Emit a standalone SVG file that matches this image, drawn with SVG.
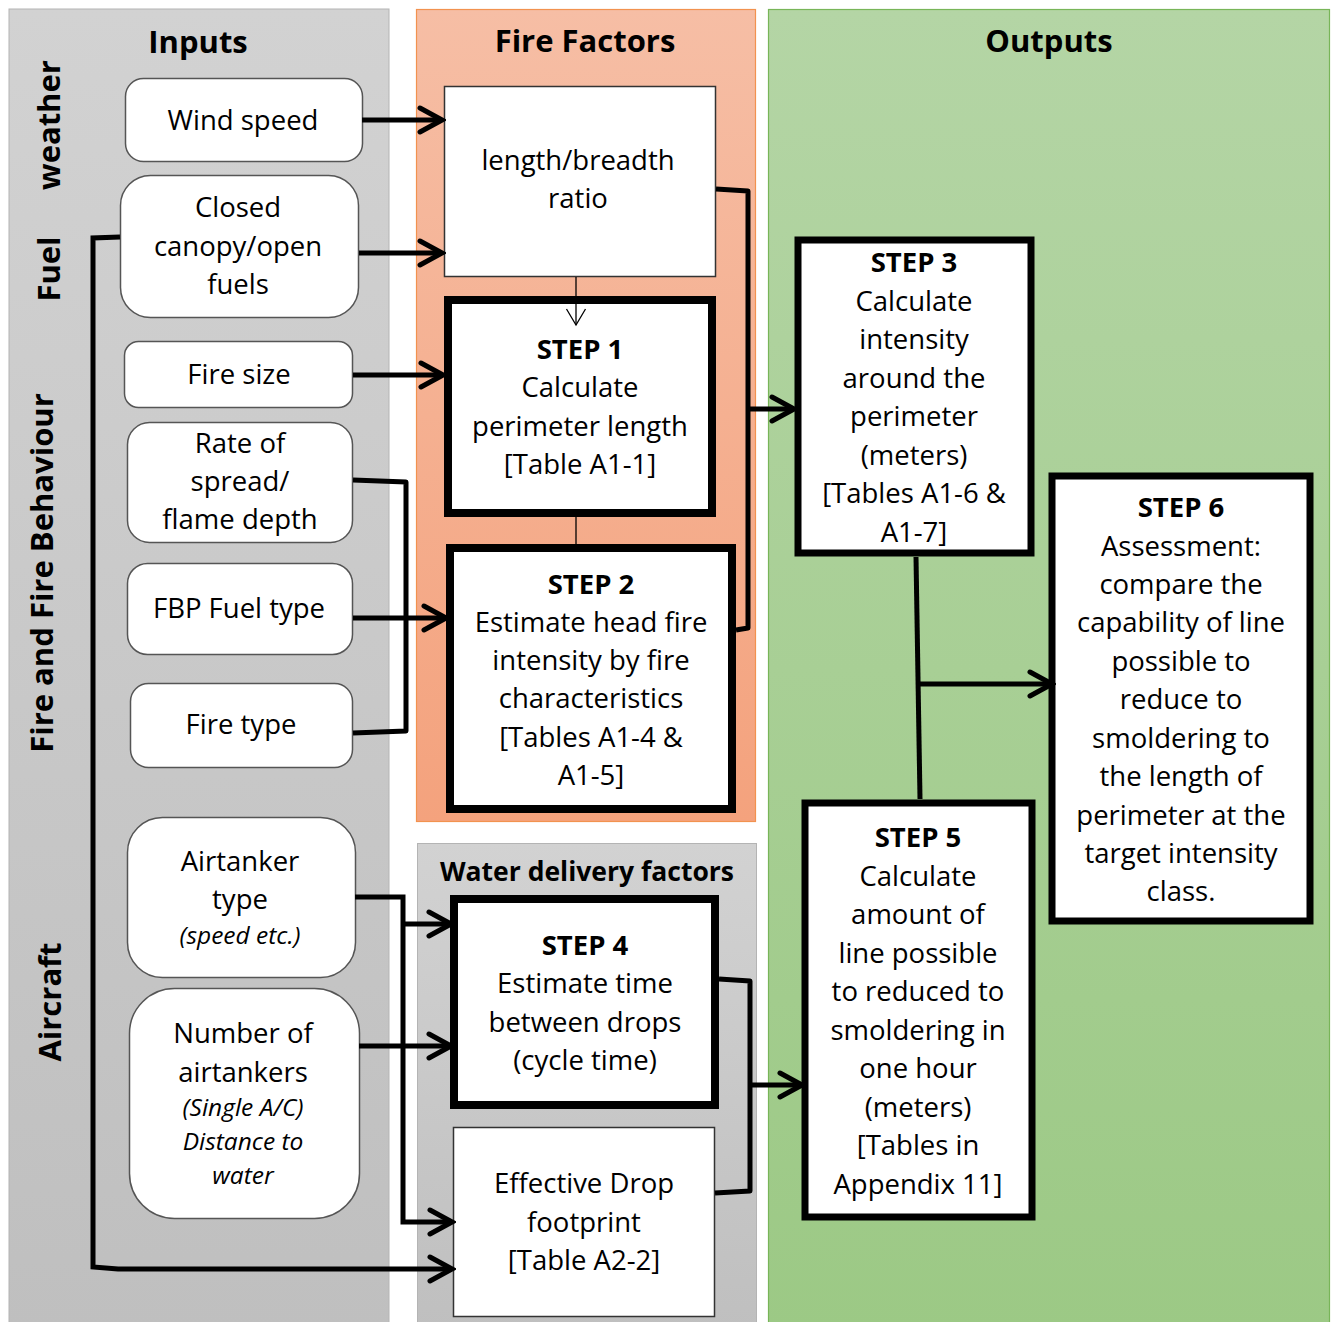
<svg xmlns="http://www.w3.org/2000/svg" width="1337" height="1322" viewBox="0 0 1337 1322">
<defs>
<linearGradient id="gGray" x1="0" y1="0" x2="0" y2="1"><stop offset="0" stop-color="#d2d2d2"/><stop offset="1" stop-color="#bfbfbf"/></linearGradient>
<linearGradient id="gSalmon" x1="0" y1="0" x2="0" y2="1"><stop offset="0" stop-color="#f6bea5"/><stop offset="1" stop-color="#f4a27d"/></linearGradient>
<linearGradient id="gGreen" x1="0" y1="0" x2="0" y2="1"><stop offset="0" stop-color="#b4d5a5"/><stop offset="1" stop-color="#9cc985"/></linearGradient>
<marker id="arr" viewBox="0 0 30 30" markerWidth="30" markerHeight="30" refX="26" refY="15" markerUnits="userSpaceOnUse" orient="auto">
<path d="M4,3 L26,15 L4,27" fill="none" stroke="#000" stroke-width="5" stroke-linecap="round" stroke-linejoin="miter"/>
</marker>
<marker id="arrS" viewBox="0 0 22 22" markerWidth="22" markerHeight="22" refX="18" refY="11" markerUnits="userSpaceOnUse" orient="auto">
<path d="M2,1.5 L18,11 L2,20.5" fill="none" stroke="#000" stroke-width="1.3"/>
</marker>
</defs>
<style>
text{font-family:"Open Sans","Liberation Sans",sans-serif;fill:#000;text-anchor:middle}
.t{font-size:27.5px}
.b{font-size:27.5px;font-weight:bold}
.h{font-size:31px;font-weight:bold}
.i{font-size:24.5px;font-style:italic}
.in{fill:#fff;stroke:#555;stroke-width:1.5}
.thin{fill:#fff;stroke:#333;stroke-width:1.5}
.step{fill:#fff;stroke:#000;stroke-width:8}
.c{fill:none;stroke:#000;stroke-width:5;stroke-linejoin:round}
.ca{fill:none;stroke:#000;stroke-width:5;marker-end:url(#arr)}
</style>
<rect width="1337" height="1322" fill="#fff"/>
<g id="panels">
<rect x="9" y="9" width="380" height="1320" fill="url(#gGray)" stroke="#b4b4b4" stroke-width="1"/>
<rect x="416.5" y="9.5" width="339" height="812" fill="url(#gSalmon)" stroke="#f2924f" stroke-width="1.2"/>
<rect x="417.5" y="843.5" width="339" height="490" fill="url(#gGray)" stroke="#b4b4b4" stroke-width="1"/>
<rect x="768.5" y="9.5" width="561" height="1320" fill="url(#gGreen)" stroke="#78b558" stroke-width="1.2"/>
<text class="h" x="198" y="53">Inputs</text>
<text class="h" x="585" y="52">Fire Factors</text>
<text class="h" x="1049" y="52">Outputs</text>
<text style="font-size:26.5px;font-weight:bold" x="587" y="881">Water delivery factors</text>
<text class="h" transform="translate(60,125) rotate(-90)">weather</text>
<text class="h" transform="translate(60,269) rotate(-90)">Fuel</text>
<text class="h" transform="translate(53,573) rotate(-90)">Fire and Fire Behaviour</text>
<text class="h" transform="translate(61,1002) rotate(-90)">Aircraft</text>
</g>
<g id="wind-speed">
<rect class="in" x="125.5" y="78.5" width="237" height="83" rx="18"/>
<text class="t" x="243" y="130">Wind speed</text>
</g>
<g id="closed-canopy">
<rect class="in" x="120.5" y="175.5" width="238" height="142" rx="30"/>
<text class="t" x="238" y="217">Closed</text>
<text class="t" x="238" y="256">canopy/open</text>
<text class="t" x="238" y="294">fuels</text>
</g>
<g id="fire-size">
<rect class="in" x="124.5" y="341.5" width="228" height="66" rx="14"/>
<text class="t" x="239" y="384">Fire size</text>
</g>
<g id="rate-of-spread">
<rect class="in" x="127.5" y="422.5" width="225" height="120" rx="22"/>
<text class="t" x="240" y="453">Rate of</text>
<text class="t" x="240" y="491">spread/</text>
<text class="t" x="240" y="529">flame depth</text>
</g>
<g id="fbp-fuel-type">
<rect class="in" x="127.5" y="563.5" width="225" height="91" rx="20"/>
<text class="t" x="239" y="618">FBP Fuel type</text>
</g>
<g id="fire-type">
<rect class="in" x="130.5" y="683.5" width="222" height="84" rx="18"/>
<text class="t" x="241" y="734">Fire type</text>
</g>
<g id="airtanker-type">
<rect class="in" x="127.5" y="817.5" width="228" height="160" rx="35"/>
<text class="t" x="240" y="871">Airtanker</text>
<text class="t" x="240" y="909">type</text>
<text class="i" x="240" y="944">(speed etc.)</text>
</g>
<g id="number-of-airtankers">
<rect class="in" x="129.5" y="988.5" width="230" height="230" rx="45"/>
<text class="t" x="243" y="1043">Number of</text>
<text class="t" x="243" y="1082">airtankers</text>
<text class="i" x="243" y="1116">(Single A/C)</text>
<text class="i" x="243" y="1150">Distance to</text>
<text class="i" x="243" y="1184">water</text>
</g>
<g id="length-breadth">
<rect class="thin" x="444.5" y="86.5" width="271" height="190"/>
<text class="t" x="578" y="170">length/breadth</text>
<text class="t" x="578" y="208">ratio</text>
</g>
<g id="step1">
<rect class="step" x="448" y="300" width="264" height="213"/>
<text class="b" x="580" y="359">STEP 1</text>
<text class="t" x="580" y="397">Calculate</text>
<text class="t" x="580" y="436">perimeter length</text>
<text class="t" x="580" y="474">[Table A1-1]</text>
</g>
<g id="step2">
<rect class="step" x="450" y="548" width="282" height="261"/>
<text class="b" x="591" y="594">STEP 2</text>
<text class="t" x="591" y="632">Estimate head fire</text>
<text class="t" x="591" y="670">intensity by fire</text>
<text class="t" x="591" y="708">characteristics</text>
<text class="t" x="591" y="747">[Tables A1-4 &amp;</text>
<text class="t" x="591" y="785">A1-5]</text>
</g>
<g id="step4">
<rect class="step" x="454" y="899" width="261" height="206"/>
<text class="b" x="585" y="955">STEP 4</text>
<text class="t" x="585" y="993">Estimate time</text>
<text class="t" x="585" y="1032">between drops</text>
<text class="t" x="585" y="1070">(cycle time)</text>
</g>
<g id="drop-footprint">
<rect class="thin" x="453.5" y="1127.5" width="261" height="189"/>
<text class="t" x="584" y="1193">Effective Drop</text>
<text class="t" x="584" y="1232">footprint</text>
<text class="t" x="584" y="1270">[Table A2-2]</text>
</g>
<g id="step3">
<rect class="step" x="798" y="240" width="233" height="313" style="stroke-width:7"/>
<text class="b" x="914" y="272">STEP 3</text>
<text class="t" x="914" y="311">Calculate</text>
<text class="t" x="914" y="349">intensity</text>
<text class="t" x="914" y="388">around the</text>
<text class="t" x="914" y="426">perimeter</text>
<text class="t" x="914" y="465">(meters)</text>
<text class="t" x="914" y="503">[Tables A1-6 &amp;</text>
<text class="t" x="914" y="542">A1-7]</text>
</g>
<g id="step6">
<rect class="step" x="1052" y="476" width="258" height="445" style="stroke-width:7"/>
<text class="b" x="1181" y="517">STEP 6</text>
<text class="t" x="1181" y="556">Assessment:</text>
<text class="t" x="1181" y="594">compare the</text>
<text class="t" x="1181" y="632">capability of line</text>
<text class="t" x="1181" y="671">possible to</text>
<text class="t" x="1181" y="709">reduce to</text>
<text class="t" x="1181" y="748">smoldering to</text>
<text class="t" x="1181" y="786">the length of</text>
<text class="t" x="1181" y="825">perimeter at the</text>
<text class="t" x="1181" y="863">target intensity</text>
<text class="t" x="1181" y="901">class.</text>
</g>
<g id="step5">
<rect class="step" x="805" y="803" width="227" height="414" style="stroke-width:7"/>
<text class="b" x="918" y="847">STEP 5</text>
<text class="t" x="918" y="886">Calculate</text>
<text class="t" x="918" y="924">amount of</text>
<text class="t" x="918" y="963">line possible</text>
<text class="t" x="918" y="1001">to reduced to</text>
<text class="t" x="918" y="1040">smoldering in</text>
<text class="t" x="918" y="1078">one hour</text>
<text class="t" x="918" y="1117">(meters)</text>
<text class="t" x="918" y="1155">[Tables in</text>
<text class="t" x="918" y="1194">Appendix 11]</text>
</g>
<g id="connectors">
<path class="ca" d="M362,120 H442"/>
<path class="ca" d="M359,253 H442"/>
<path class="ca" d="M353,375 H443"/>
<path d="M576,277 V325" fill="none" stroke="#000" stroke-width="1.3" marker-end="url(#arrS)"/>
<path d="M576,517 V544" fill="none" stroke="#000" stroke-width="1.3"/>
<path class="c" d="M353,480 L406,482 V731 L353,733"/>
<path class="ca" d="M353,618 H446"/>
<path class="c" d="M716,189 L748,191 V628 L736,630"/>
<path class="ca" d="M748,409 H794"/>
<path class="c" d="M916,557 L920,799"/>
<path class="ca" d="M918,684 H1052"/>
<path class="ca" d="M355,897 H403 V1222 H452"/>
<path class="ca" d="M403,924 H451"/>
<path class="ca" d="M359,1046 H451"/>
<path class="ca" d="M120,237 L93,238 V1267 L118,1269 H452"/>
<path class="c" d="M719,979 L750,981 V1191 L715,1193"/>
<path class="ca" d="M750,1085 H802"/>
</g>
</svg>
